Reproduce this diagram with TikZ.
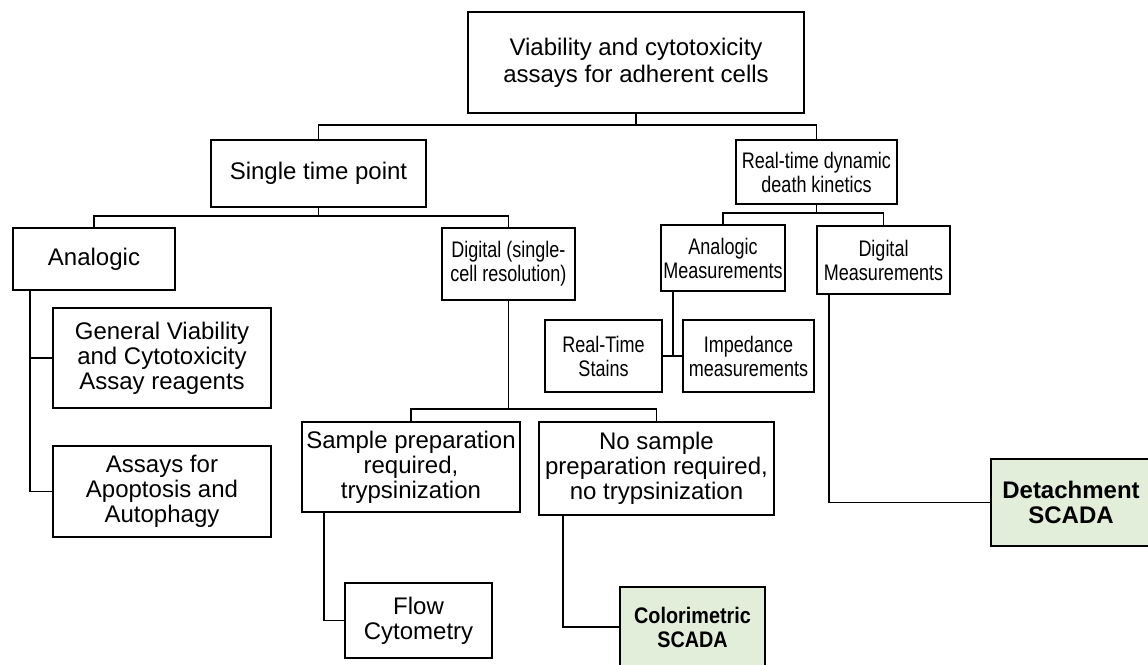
\documentclass[tikz,border=0pt]{standalone}
\usepackage{fontspec}
\setmainfont{Liberation Sans}
\newfontfamily\narrowfont[FakeStretch=0.8]{Liberation Sans}
\newfontfamily\narrowbold[FakeStretch=0.88]{Liberation Sans Bold}
\definecolor{lgreen}{HTML}{E2EEDA}
\begin{document}
\begin{tikzpicture}[x=1pt,y=-1pt,
  every node/.style={font=\fontsize{24}{25}\selectfont},
  box/.style={draw, line width=1.9pt, inner sep=0pt, align=center, fill=white},
  nbox/.style={box, font=\fontsize{22.5}{24}\narrowfont},
  hbox/.style={box, fill=lgreen, font=\fontsize{24}{25}\selectfont\bfseries},
  conn/.style={line width=1.9pt}]
\useasboundingbox (0,0) rectangle (1148,664);
% boxes: centre (cx,cy), width, height
\node[box, font=\fontsize{24}{27}\selectfont, minimum width=336, minimum height=101] (top) at (636,62.5) {Viability and cytotoxicity\\assays for adherent cells};
\node[box, minimum width=215, minimum height=67] (single) at (318.5,173.5) {Single time point};
\node[nbox, minimum width=161, minimum height=64] (realtime) at (816.5,172) {Real-time dynamic\\death kinetics};
\node[box, minimum width=162, minimum height=62] (analogic) at (94,259) {Analogic};
\node[nbox, minimum width=133, minimum height=72] (digital) at (508.5,264) {Digital (single-\\cell resolution)};
\node[nbox, minimum width=124, minimum height=66] (anameas) at (723,258) {Analogic\\Measurements};
\node[nbox, minimum width=133, minimum height=68] (digmeas) at (883.5,260) {Digital\\Measurements};
\node[box, minimum width=218, minimum height=100] (general) at (162,358) {General Viability\\and Cytotoxicity\\Assay reagents};
\node[box, minimum width=218, minimum height=91] (apop) at (162,491.5) {Assays for\\Apoptosis and\\Autophagy};
\node[nbox, minimum width=117, minimum height=72] (rtstains) at (603.5,356) {Real-Time\\Stains};
\node[nbox, minimum width=131, minimum height=72] (imped) at (748.5,356) {Impedance\\measurements};
\node[box, minimum width=218, minimum height=90] (sample) at (411,467) {Sample preparation\\required,\\trypsinization};
\node[box, minimum width=235, minimum height=93] (nosample) at (656.5,468.5) {No sample\\preparation required,\\no trypsinization};
\node[box, minimum width=147, minimum height=75] (flow) at (418.5,620.5) {Flow\\Cytometry};
\node[hbox, font=\fontsize{22.5}{24}\narrowbold, minimum width=145, minimum height=80] (color) at (692.5,627) {Colorimetric\\SCADA};
\node[hbox, minimum width=160, minimum height=87] (detach) at (1071,502.5) {Detachment\\SCADA};
% connectors
\coordinate (b1) at (636,125);
\draw[conn] (top.south) -- (b1);
\draw[conn] (b1) -| (single.north);
\draw[conn] (b1) -| (realtime.north);
\coordinate (b2) at (318.5,216);
\draw[conn] (single.south) -- (b2);
\draw[conn] (b2) -| (analogic.north);
\draw[conn] (b2) -| (digital.north);
\coordinate (b3) at (816.5,213);
\draw[conn] (realtime.south) -- (b3);
\draw[conn] (b3) -| (anameas.north);
\draw[conn] (b3) -| (digmeas.north);
\coordinate (b4) at (508.5,409);
\draw[conn] (digital.south) -- (b4);
\draw[conn] (b4) -| (sample.north);
\draw[conn] (b4) -| (nosample.north);
\coordinate (a1) at (30,290);
\draw[conn] (a1) |- (general.west);
\draw[conn] (a1) |- (apop.west);
\coordinate (s1) at (324,512);
\draw[conn] (s1) |- (flow.west);
\coordinate (n1) at (563,515);
\draw[conn] (n1) |- (color.west);
\coordinate (m1) at (673,291);
\coordinate (m2) at (673,356);
\draw[conn] (m1) -- (m2);
\draw[conn] (rtstains.east) -- (imped.west);
\coordinate (d1) at (829,294);
\draw[conn] (d1) |- (detach.west);
\end{tikzpicture}
\end{document}
